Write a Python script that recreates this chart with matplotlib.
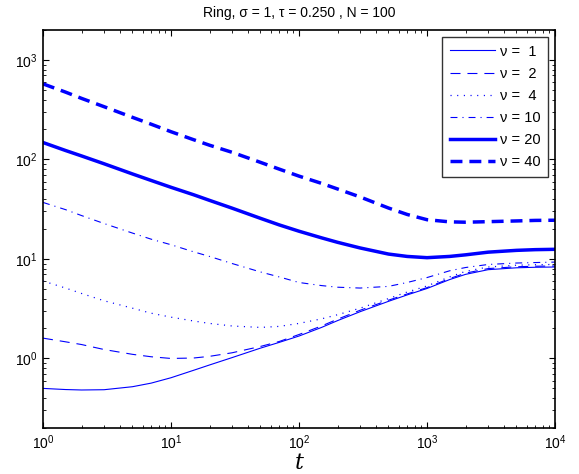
import matplotlib
matplotlib.use("Agg")
import matplotlib.pyplot as plt

plt.rcParams['font.family'] = ['Liberation Sans', 'DejaVu Sans']
plt.rcParams['mathtext.default'] = 'regular'
plt.rcParams['lines.scale_dashes'] = False

t = [1, 1.5, 2, 3, 5, 7, 10, 15, 20, 30, 50, 70, 100, 150, 200, 300, 500, 700,
     1000, 1500, 2000, 3000, 5000, 7000, 10000]

nu1 = [0.50, 0.487, 0.482, 0.485, 0.52, 0.565, 0.64, 0.76, 0.86, 1.02, 1.27, 1.45, 1.68,
       2.05, 2.40, 2.95, 3.75, 4.35, 5.05, 6.20, 7.00, 7.80, 8.15, 8.25, 8.30]
nu2 = [1.60, 1.47, 1.38, 1.23, 1.10, 1.04, 1.00, 1.01, 1.05, 1.14, 1.32, 1.48, 1.74,
       2.12, 2.48, 3.05, 3.85, 4.45, 5.15, 6.35, 7.20, 8.00, 8.35, 8.45, 8.50]
nu4 = [6.0, 5.1, 4.5, 3.8, 3.2, 2.85, 2.6, 2.38, 2.25, 2.12, 2.05, 2.10, 2.25,
       2.50, 2.75, 3.20, 4.00, 4.65, 5.35, 6.60, 7.50, 8.30, 8.65, 8.75, 8.80]
nu10 = [37.0, 31.3, 27.3, 22.7, 18.2, 15.8, 13.9, 11.8, 10.6, 9.0, 7.4, 6.6, 5.8,
        5.4, 5.2, 5.1, 5.3, 5.8, 6.5, 7.6, 8.2, 8.8, 9.1, 9.2, 9.3]
nu20 = [148, 123, 108.5, 90.5, 71.5, 61.5, 52.5, 44.2, 38.8, 32.4, 25.6, 22.0, 19.0,
        16.3, 14.7, 12.9, 11.2, 10.6, 10.3, 10.6, 11.0, 11.7, 12.2, 12.4, 12.5]
nu40 = [575, 475, 411, 339, 265, 226, 190, 158, 139, 118, 93.5, 80, 68,
        57.5, 50.5, 42, 32.5, 28, 24.8, 23.6, 23.4, 23.7, 24.1, 24.4, 24.5]

labels = ['ν =  1', 'ν =  2', 'ν =  4', 'ν = 10', 'ν = 20', 'ν = 40']
series = [nu1, nu2, nu4, nu10, nu20, nu40]

blue = (0, 0, 1)
styles = [
    dict(linestyle='-', linewidth=0.8),
    dict(linestyle=(0, (7.2, 5.0)), linewidth=0.8),
    dict(linestyle=(0, (0.8, 4.0)), linewidth=0.9),
    dict(linestyle=(0, (5.0, 3.6, 0.8, 3.6)), linewidth=0.8),
    dict(linestyle='-', linewidth=2.5),
    dict(linestyle=(0, (8.6, 5.0)), linewidth=2.5),
]

fig = plt.figure(figsize=(5.79, 4.74), dpi=100)
ax = fig.add_axes([43/579, 1-428/474, (555-43)/579, (428-30)/474])

for y, lab, st in zip(series, labels, styles):
    ax.plot(t, y, color=blue, label=lab, **st)

ax.set_xscale('log')
ax.set_yscale('log')
ax.set_xlim(1, 1e4)
ax.set_ylim(0.2, 2000)

ax.tick_params(which='both', direction='in', top=True, right=True, labelsize=10, colors='black')
ax.tick_params(which='major', length=4, width=0.8, pad=4)
ax.tick_params(which='minor', length=2.5, width=0.6)
for s in ax.spines.values():
    s.set_linewidth(1.2)

ax.set_title('Ring, σ = 1, τ = 0.250 , N = 100', fontsize=10, pad=9)
ax.set_xlabel('t', fontfamily='DejaVu Serif', fontstyle='italic', fontsize=16, labelpad=0)

leg = ax.legend(loc='upper right', fontsize=10.5, frameon=True, fancybox=False,
                edgecolor='black', borderaxespad=0.45, handlelength=3.1,
                handletextpad=0.3, labelspacing=0.55, borderpad=0.55)
leg.get_frame().set_linewidth(1.0)

fig.savefig('out.png', dpi=100)
